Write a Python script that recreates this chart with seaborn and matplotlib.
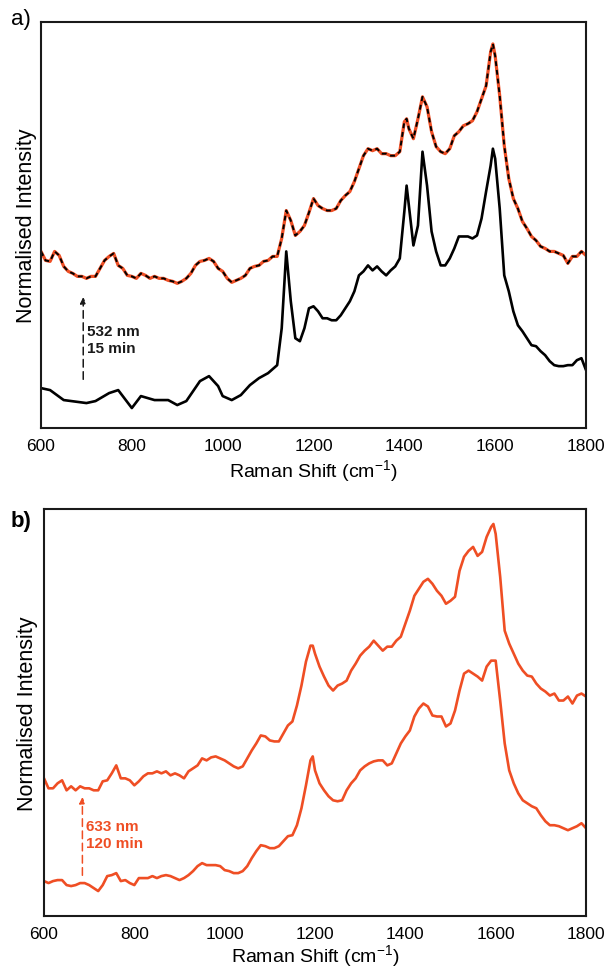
import numpy as np
import pandas as pd
import matplotlib
matplotlib.use("Agg")
import matplotlib.pyplot as plt
from matplotlib.ticker import MultipleLocator
import seaborn as sns

# ---------------- data (normalised intensity, arbitrary units) ----------------
a_low_x = [600, 620, 650, 700, 720, 750, 770, 800, 820, 850, 880, 900, 920, 950, 970, 990,
           1000, 1020, 1040, 1060, 1080, 1100, 1120, 1130, 1140, 1150, 1160, 1170, 1180, 1190,
           1200, 1210, 1220, 1230, 1240, 1250, 1260, 1270, 1280, 1290, 1300, 1310, 1320, 1330,
           1340, 1350, 1360, 1370, 1380, 1390, 1400, 1405, 1410, 1420, 1430, 1440, 1450, 1460,
           1470, 1480, 1490, 1500, 1510, 1520, 1530, 1540, 1550, 1560, 1570, 1580, 1590, 1595,
           1600, 1610, 1620, 1630, 1640, 1650, 1660, 1670, 1680, 1690, 1700, 1710, 1720, 1730,
           1740, 1750, 1760, 1770, 1780, 1790, 1800]
a_low_y = [40, 38, 28, 25, 27, 35, 38, 20, 32, 28, 28, 23, 27, 47, 52, 42,
           32, 28, 33, 43, 50, 55, 63, 100, 177, 127, 90, 87, 100, 120,
           122, 117, 110, 110, 108, 108, 113, 120, 127, 137, 153, 157, 163, 158,
           162, 157, 153, 158, 162, 170, 217, 243, 223, 183, 203, 277, 243, 197,
           177, 163, 163, 170, 180, 192, 192, 192, 190, 193, 210, 237, 263, 280,
           270, 220, 153, 137, 117, 103, 97, 90, 83, 82, 77, 73, 67, 63,
           62, 62, 63, 63, 68, 70, 58]

a_up_x = list(range(600, 1401, 10)) + [1405] + list(range(1410, 1591, 10)) + [1595] + list(range(1600, 1801, 10))
a_up_y = [177, 168, 167, 177, 173, 162, 157, 155, 152, 152, 150, 152, 152, 160, 168, 172,
          175, 163, 160, 153, 152, 150, 155, 153, 150, 152, 150, 150, 148, 147, 145, 147,
          150, 155, 163, 167, 168, 170, 167, 160, 157, 150, 146, 148, 150, 153, 160, 162,
          163, 167, 168, 172, 172, 190, 218, 208, 193, 197, 203, 216, 230, 223, 220, 218,
          218, 220, 228, 233, 237, 247, 260, 273, 280, 278, 280, 275, 275, 273, 273, 277,
          307, 310, 300, 290, 310, 332, 322, 297, 282, 277, 275, 280, 293, 297, 303, 305,
          308, 317, 330, 343, 377, 385, 373, 333, 283, 250, 230, 220, 207, 200, 192, 188,
          182, 180, 177, 177, 175, 173, 165, 172, 172, 177, 173]

b_x = list(range(600, 1191, 10)) + [1195] + list(range(1200, 1591, 10)) + [1595] + list(range(1600, 1801, 10))
b_up_y = [138, 128, 128, 133, 136, 126, 130, 126, 130, 128, 128, 126, 126, 135, 136, 143,
          151, 138, 138, 136, 131, 135, 140, 143, 143, 145, 143, 145, 141, 143, 141, 138,
          145, 148, 151, 158, 156, 159, 160, 158, 156, 153, 150, 148, 150, 158, 166, 173,
          181, 180, 176, 175, 175, 183, 191, 195, 211, 231, 255, 271, 271, 263, 250, 240,
          231, 226, 231, 233, 236, 246, 253, 261, 266, 270, 276, 271, 266, 270, 270, 276,
          280, 293, 306, 321, 328, 335, 338, 333, 326, 321, 313, 316, 320, 346, 360, 366,
          370, 361, 365, 380, 390, 393, 383, 340, 286, 273, 263, 253, 246, 241, 240, 233,
          228, 225, 221, 223, 216, 216, 220, 213, 221, 223, 220]
b_low_y = [35, 33, 35, 36, 36, 31, 30, 31, 33, 33, 31, 28, 25, 31, 40, 41,
           43, 35, 36, 33, 31, 38, 38, 38, 40, 38, 40, 41, 40, 38, 36, 38,
           41, 45, 50, 53, 51, 51, 51, 50, 46, 45, 43, 43, 45, 50, 58, 65,
           71, 70, 68, 68, 70, 75, 80, 81, 91, 108, 131, 156, 160, 146, 133, 126,
           120, 116, 115, 116, 126, 133, 138, 146, 150, 153, 155, 156, 156, 151, 153, 163,
           173, 180, 186, 200, 208, 213, 210, 201, 200, 200, 190, 193, 206, 226, 243, 246,
           243, 240, 236, 250, 256, 256, 256, 216, 173, 146, 133, 123, 116, 113, 110, 108,
           101, 95, 91, 91, 90, 88, 86, 88, 90, 93, 88]

xticks_major = [600, 800, 1000, 1200, 1400, 1600, 1800]
xlabel = "Raman Shift (cm$^{-1}$)"
ylabel = "Normalised Intensity"
ann_a = "532 nm\n15 min"
ann_b = "633 nm\n120 min"

ORANGE = "#EF4E24"
BLACK = "#000000"
DARK = "#1a1a1a"

# ---------------- style ----------------
sns.set_style("white")
plt.rcParams["font.family"] = ["Liberation Sans", "DejaVu Sans"]
plt.rcParams["mathtext.default"] = "regular"
plt.rcParams["text.color"] = "black"
plt.rcParams["axes.labelcolor"] = "black"
plt.rcParams["xtick.color"] = "black"

fig = plt.figure(figsize=(6.08, 9.70), dpi=100)
ax_a = fig.add_axes([41 / 608, 1 - 429 / 970, 545 / 608, 406 / 970])
ax_b = fig.add_axes([44 / 608, 1 - 917 / 970, 542 / 608, 407 / 970])

df_a_low = pd.DataFrame({"x": a_low_x, "y": a_low_y})
df_a_up = pd.DataFrame({"x": a_up_x, "y": a_up_y})
df_b_up = pd.DataFrame({"x": b_x, "y": b_up_y})
df_b_low = pd.DataFrame({"x": b_x, "y": b_low_y})

sns.lineplot(data=df_a_low, x="x", y="y", ax=ax_a, color=BLACK, lw=1.9, sort=False)
sns.lineplot(data=df_a_up, x="x", y="y", ax=ax_a, color=ORANGE, lw=2.3, sort=False)
sns.lineplot(data=df_a_up, x="x", y="y", ax=ax_a, color=BLACK, lw=1.4, sort=False,
             dashes=False, linestyle=(0, (2.5, 2.0)))
sns.lineplot(data=df_b_up, x="x", y="y", ax=ax_b, color=ORANGE, lw=1.9, sort=False)
sns.lineplot(data=df_b_low, x="x", y="y", ax=ax_b, color=ORANGE, lw=1.9, sort=False)

label_pos = {ax_a: (-0.0275, -0.1035), ax_b: (-0.031, -0.096)}
for ax in (ax_a, ax_b):
    ax.set_xlim(600, 1800)
    ax.set_xticks(xticks_major)
    ax.xaxis.set_minor_locator(MultipleLocator(50))
    ax.set_yticks([])
    ax.tick_params(axis="x", which="major", direction="in", length=7, width=1.0,
                   labelsize=12.5, pad=7, color=DARK, labelcolor="black")
    ax.tick_params(axis="x", which="minor", direction="in", length=4, width=0.9,
                   color=DARK)
    ax.set_xlabel(xlabel, fontsize=14)
    ax.set_ylabel(ylabel, fontsize=15.5)
    yx, xy = label_pos[ax]
    ax.xaxis.set_label_coords(0.5, xy)
    ax.xaxis.label.set_va("center")
    ax.yaxis.set_label_coords(yx, 0.5)
    ax.yaxis.label.set_va("center")
    for s in ax.spines.values():
        s.set_color(DARK)
        s.set_linewidth(1.5)

ax_a.set_ylim(0, 407)
ax_b.set_ylim(0, 408)

# annotations
ax_a.annotate("", xy=(693, 134), xytext=(693, 46),
              arrowprops=dict(arrowstyle="-|>", color=DARK, lw=1.1,
                              linestyle=(0, (5, 3)), mutation_scale=9))
ax_a.text(702, 89, ann_a, fontsize=11, fontweight="bold", color=DARK,
          va="center", ha="left", linespacing=1.25)

ax_b.annotate("", xy=(685, 122), xytext=(685, 38),
              arrowprops=dict(arrowstyle="-|>", color=ORANGE, lw=1.1,
                              linestyle=(0, (5, 3)), mutation_scale=9))
ax_b.text(694, 82, ann_b, fontsize=11, fontweight="bold", color=ORANGE,
          va="center", ha="left", linespacing=1.25)

fig.text(11 / 608, 1 - 19 / 970, "a)", fontsize=16, va="center", ha="left")
fig.text(11 / 608, 1 - 522 / 970, "b)", fontsize=16, fontweight="bold", va="center", ha="left")

fig.savefig("out.png", dpi=100)
